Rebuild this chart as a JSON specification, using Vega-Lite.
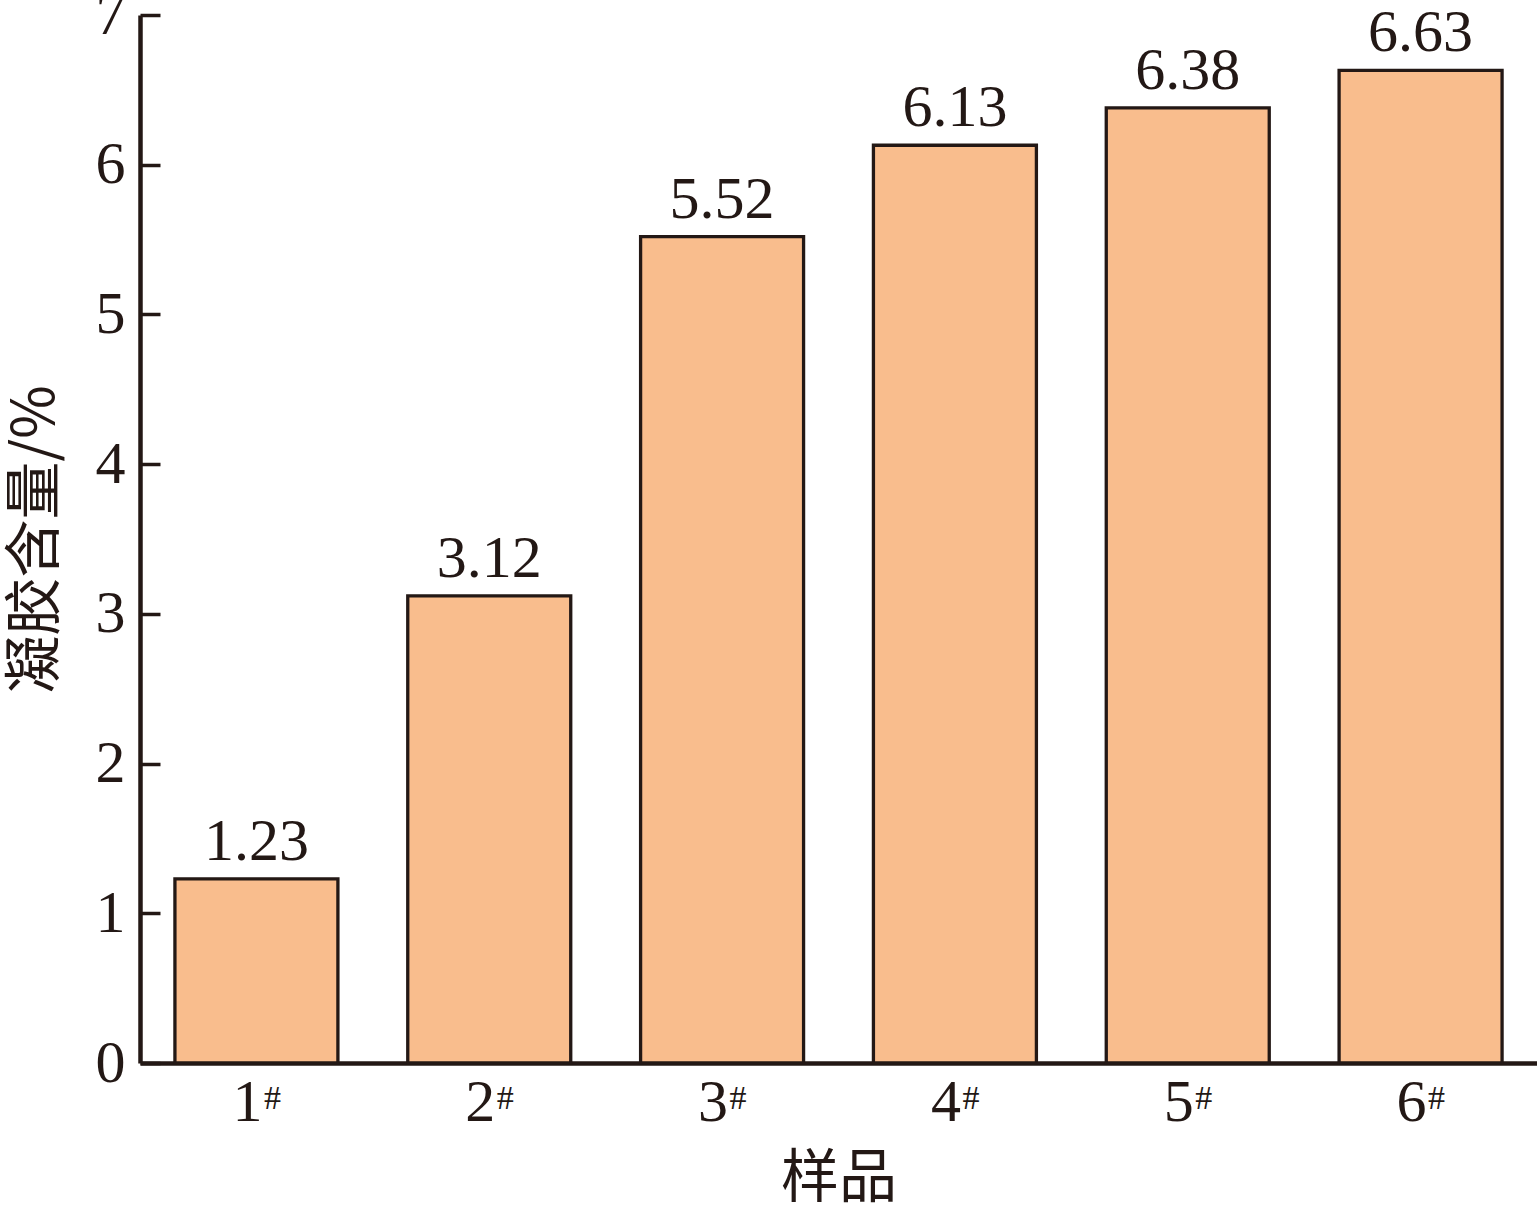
{
  "$schema": "https://vega.github.io/schema/vega-lite/v6.json",
  "width": 1397,
  "height": 1048,
  "autosize": {"type": "none"},
  "padding": {"left": 140, "top": 15, "right": 0, "bottom": 143},
  "background": "white",
  "config": {
    "view": {"stroke": null},
    "font": "Liberation Serif, Noto Sans CJK SC",
    "axis": {"grid": false}
  },
  "data": {
    "values": [
      {"sample": "1#", "value": 1.23, "sup": "#"},
      {"sample": "2#", "value": 3.12, "sup": "#"},
      {"sample": "3#", "value": 5.52, "sup": "#"},
      {"sample": "4#", "value": 6.13, "sup": "#"},
      {"sample": "5#", "value": 6.38, "sup": "#"},
      {"sample": "6#", "value": 6.63, "sup": "#"}
    ]
  },
  "encoding": {
    "x": {
      "field": "sample",
      "type": "nominal",
      "sort": null,
      "scale": {"paddingInner": 0.3, "paddingOuter": 0.15},
      "axis": {
        "title": "样品",
        "titleFont": "Noto Sans CJK SC",
        "titleFontSize": 58,
        "titleFontWeight": "normal",
        "titleColor": "#231815",
        "titlePadding": 18,
        "labelExpr": "replace(datum.label, '#', '')",
        "labelAngle": 0,
        "labelFontSize": 60,
        "labelColor": "#231815",
        "labelOffset": -9,
        "labelPadding": 30,
        "tickSize": -20,
        "tickWidth": 3.5,
        "tickColor": "#231815",
        "domainColor": "#231815",
        "domainWidth": 4.5
      }
    },
    "y": {
      "field": "value",
      "type": "quantitative",
      "scale": {"domain": [0, 7], "nice": false},
      "axis": {
        "title": "凝胶含量/%",
        "titleFont": "Noto Sans CJK SC",
        "titleFontSize": 58,
        "titleFontWeight": "normal",
        "titleColor": "#231815",
        "titlePadding": 30,
        "values": [0, 1, 2, 3, 4, 5, 6, 7],
        "labelFontSize": 60,
        "labelColor": "#231815",
        "labelPadding": 35,
        "tickSize": -20,
        "tickWidth": 3.5,
        "tickColor": "#231815",
        "domainColor": "#231815",
        "domainWidth": 4.5
      }
    }
  },
  "layer": [
    {
      "mark": {"type": "bar", "fill": "#F9BD8D", "stroke": "#231815", "strokeWidth": 3.3}
    },
    {
      "mark": {"type": "text", "baseline": "bottom", "dy": -6, "fontSize": 60, "color": "#231815"},
      "encoding": {"text": {"field": "value", "type": "quantitative", "format": ".2f"}}
    },
    {
      "mark": {"type": "text", "baseline": "top", "align": "center", "dx": 16, "dy": 19, "fontSize": 34, "color": "#231815"},
      "encoding": {"y": {"datum": 0}, "text": {"field": "sup"}}
    }
  ]
}
